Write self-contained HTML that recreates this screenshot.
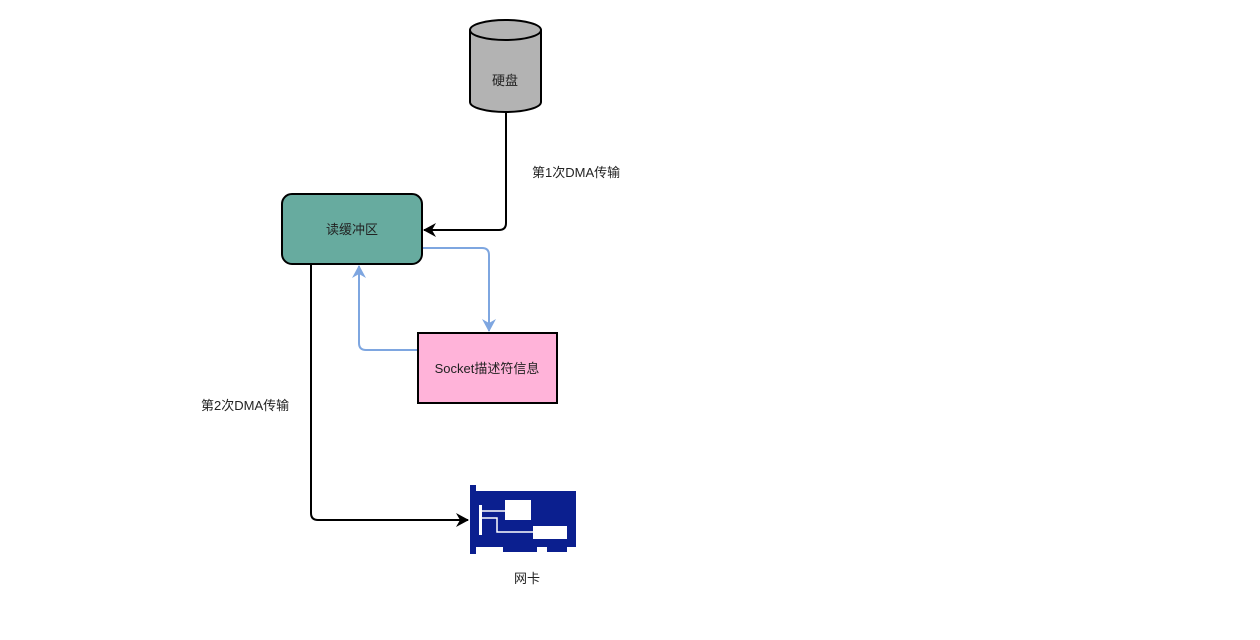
<!DOCTYPE html>
<html><head><meta charset="utf-8"><style>
body{margin:0;background:#fff;}
svg text{font-family:"Liberation Sans","Noto Sans CJK SC",sans-serif;font-size:13px;fill:#222;}
</style></head><body>
<svg width="1260" height="635" viewBox="0 0 1260 635">
<defs>
<marker id="ab" markerWidth="14" markerHeight="14" refX="12" refY="7" orient="auto" markerUnits="userSpaceOnUse"><path d="M0,0 L13,7 L0,14 L4,7 Z" fill="#000"/></marker>
<marker id="abl" markerWidth="14" markerHeight="14" refX="12" refY="7" orient="auto" markerUnits="userSpaceOnUse"><path d="M0,0 L13,7 L0,14 L4,7 Z" fill="#7ea6e0"/></marker>
</defs>
<path d="M470,30 L470,102 A35.5,10 0 0 0 541,102 L541,30" fill="#b3b3b3" stroke="#000" stroke-width="2"/>
<ellipse cx="505.5" cy="30" rx="35.5" ry="10" fill="#b3b3b3" stroke="#000" stroke-width="2"/>
<text x="505" y="85" text-anchor="middle">硬盘</text>
<path d="M506,112 L506,223 Q506,230 499,230 L424,230" fill="none" stroke="#000" stroke-width="2" marker-end="url(#ab)"/>
<path d="M422,248 L482,248 Q489,248 489,255 L489,331" fill="none" stroke="#7ea6e0" stroke-width="2" marker-end="url(#abl)"/>
<path d="M417,350 L366,350 Q359,350 359,343 L359,266" fill="none" stroke="#7ea6e0" stroke-width="2" marker-end="url(#abl)"/>
<path d="M311,264 L311,513 Q311,520 318,520 L468,520" fill="none" stroke="#000" stroke-width="2" marker-end="url(#ab)"/>
<rect x="282" y="194" width="140" height="70" rx="10" fill="#67ab9f" stroke="#000" stroke-width="2"/>
<text x="352" y="234" text-anchor="middle">读缓冲区</text>
<rect x="418" y="333" width="139" height="70" fill="#ffb3d9" stroke="#000" stroke-width="2"/>
<text x="487" y="373" text-anchor="middle">Socket描述符信息</text>
<text x="532" y="177">第1次DMA传输</text>
<text x="201" y="410">第2次DMA传输</text>
<rect x="470" y="485" width="6" height="69" fill="#0b1f8f"/>
<rect x="476" y="491" width="100" height="56" fill="#0b1f8f"/>
<rect x="503" y="545" width="34" height="7" fill="#0b1f8f"/>
<rect x="547" y="545" width="20" height="7" fill="#0b1f8f"/>
<rect x="479" y="505" width="3" height="30" fill="#fff"/>
<rect x="505" y="500" width="26" height="20" fill="#fff"/>
<rect x="533" y="526" width="34" height="13" fill="#fff"/>
<path d="M482,511 L505,511 M482,518 L497,518 L497,532 L533,532" stroke="#fff" stroke-width="1.5" fill="none"/>
<text x="527" y="583" text-anchor="middle">网卡</text>
</svg>
</body></html>
